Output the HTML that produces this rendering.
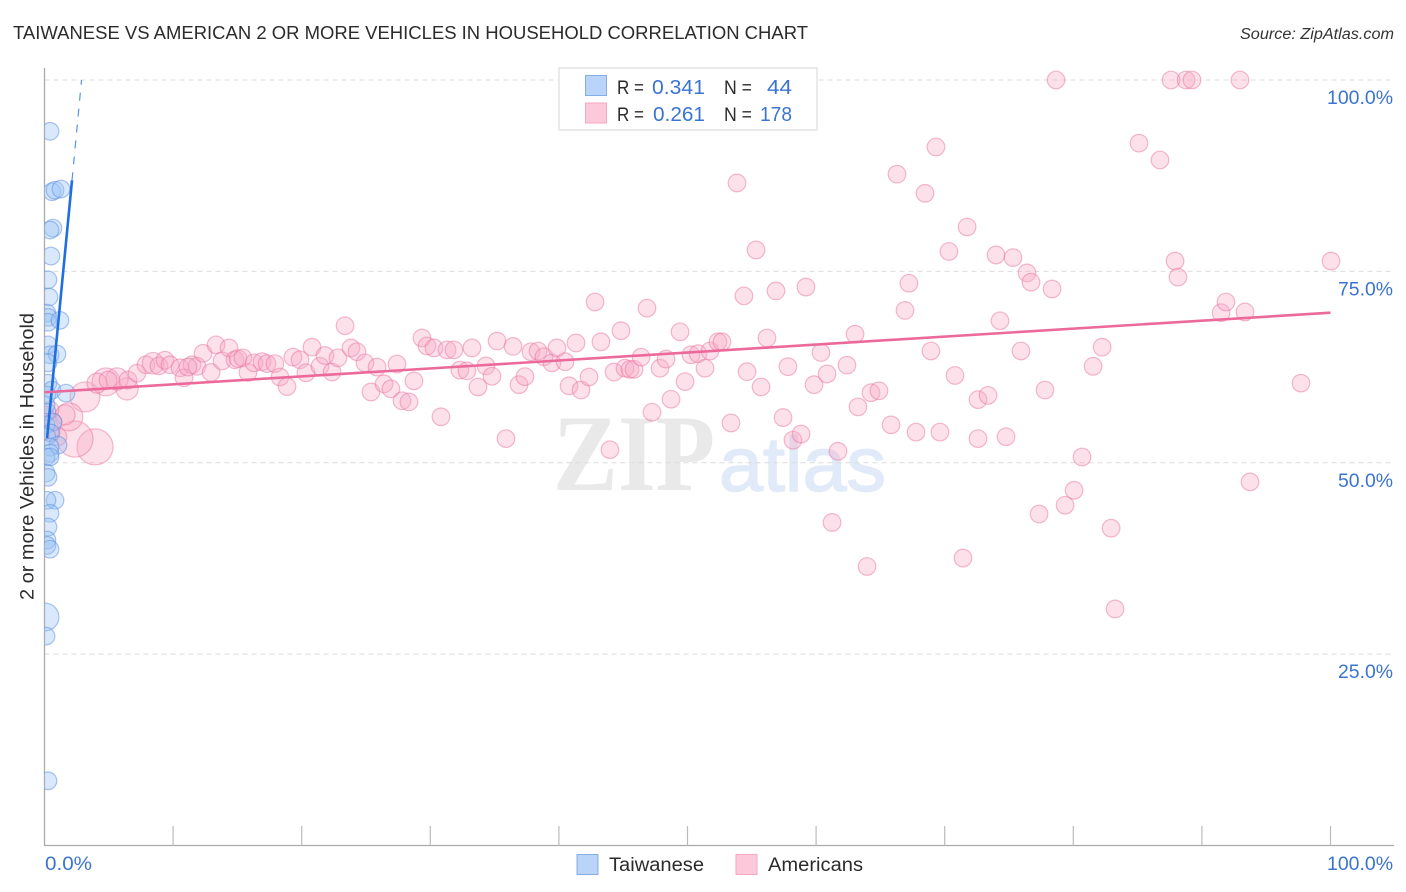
<!DOCTYPE html>
<html lang="en">
<head>
<meta charset="utf-8">
<title>Taiwanese vs American 2 or More Vehicles in Household Correlation Chart</title>
<style>
html,body{margin:0;padding:0;background:#fff;width:1406px;height:892px;overflow:hidden}
svg{display:block}
text{font-family:"Liberation Sans",sans-serif}
</style>
</head>
<body>
<svg id="chart" width="1406" height="892" viewBox="0 0 1406 892" xmlns="http://www.w3.org/2000/svg">
  <defs>
    <clipPath id="plot-clip"><rect x="44.5" y="60" width="1350" height="785.5"/></clipPath>
  </defs>
  <text x="13" y="39" font-size="18.5" fill="#2b2b2b" textLength="795" lengthAdjust="spacingAndGlyphs">TAIWANESE VS AMERICAN 2 OR MORE VEHICLES IN HOUSEHOLD CORRELATION CHART</text>
  <text x="1394" y="39" font-size="15.5" font-style="italic" fill="#333" text-anchor="end" textLength="154" lengthAdjust="spacingAndGlyphs">Source: ZipAtlas.com</text>
  <g>
    <text x="553" y="490" style="font-family:'Liberation Serif',serif" font-size="109" font-weight="700" fill="#e9e9e9" textLength="162" lengthAdjust="spacingAndGlyphs">ZIP</text>
    <text x="719" y="491" font-size="77" fill="#e1eaf8" stroke="#e1eaf8" stroke-width="1.5" textLength="167" lengthAdjust="spacingAndGlyphs">atlas</text>
  </g>
  <g id="grid"></g>
  <g id="axes"></g>
  <g id="points" clip-path="url(#plot-clip)"></g>
  <g id="trends"></g>
  <text transform="translate(33.5 600) rotate(-90)" font-size="19" fill="#2b2b2b" textLength="287" lengthAdjust="spacingAndGlyphs">2 or more Vehicles in Household</text>
  <g>
    <rect x="559" y="68" width="258" height="62" fill="#fff" stroke="#ddd" stroke-width="1.2"/>
    <rect x="585.5" y="75.5" width="21" height="20" fill="#b9d4f8" stroke="#85ade6" stroke-width="1"/>
    <rect x="585.5" y="103" width="21" height="20" fill="#fcc9da" stroke="#f5a6c0" stroke-width="1"/>
    <text x="617" y="94" font-size="19" fill="#2b2b2b" textLength="27" lengthAdjust="spacingAndGlyphs">R =</text>
    <text x="652" y="94" font-size="20.5" fill="#3b74d0" textLength="53" lengthAdjust="spacingAndGlyphs">0.341</text>
    <text x="724" y="94" font-size="19" fill="#2b2b2b" textLength="28" lengthAdjust="spacingAndGlyphs">N =</text>
    <text x="767" y="94" font-size="20.5" fill="#3b74d0" textLength="25" lengthAdjust="spacingAndGlyphs">44</text>
    <text x="617" y="121" font-size="19" fill="#2b2b2b" textLength="27" lengthAdjust="spacingAndGlyphs">R =</text>
    <text x="653" y="121" font-size="20.5" fill="#3b74d0" textLength="52" lengthAdjust="spacingAndGlyphs">0.261</text>
    <text x="724" y="121" font-size="19" fill="#2b2b2b" textLength="28" lengthAdjust="spacingAndGlyphs">N =</text>
    <text x="760" y="121" font-size="20.5" fill="#3b74d0" textLength="32" lengthAdjust="spacingAndGlyphs">178</text>
  </g>
  <g>
    <rect x="577" y="854.5" width="21" height="20" fill="#b9d4f8" stroke="#85ade6" stroke-width="1"/>
    <text x="609" y="871" font-size="19" fill="#2b2b2b" textLength="95" lengthAdjust="spacingAndGlyphs">Taiwanese</text>
    <rect x="736" y="854.5" width="21" height="20" fill="#fcc9da" stroke="#f5a6c0" stroke-width="1"/>
    <text x="768" y="871" font-size="19" fill="#2b2b2b" textLength="95" lengthAdjust="spacingAndGlyphs">Americans</text>
  </g>
</svg>
<script>
var xTickValues = [0,10,20,30,40,50,60,70,80,90,100];
var yGridValues = [25,50,75,100];
var yTickLabels = ['25.0%','50.0%','75.0%','100.0%'];
var xEndLabels = ['0.0%','100.0%'];

var taiwaneseX = [0.43,0.58,0.82,1.28,0.66,0.43,0.5,0.27,0.35,0.19,0.27,0.27,1.2,0.27,0.43,0.97,0.27,0.27,0.58,1.67,0.19,0.66,0.12,0.5,0.19,1.05,0.43,0.43,0.12,0.43,0.12,0.27,0.82,0.19,0.43,0.27,0.19,0.19,0.43,0.04,0.12,0.27,0.12,0.19];
var taiwaneseY = [93.3,85.4,85.6,85.75,80.65,80.4,77,73.9,71.65,69.55,69,68.35,68.6,65.4,64.1,64.2,63.05,60.4,59.5,59.1,56.65,55.3,54.95,53.9,53.4,52.3,52.05,51.25,50.75,50.75,48.65,48.1,45.1,45.1,43.4,41.6,39.9,39.2,38.7,29.85,27.35,8.45,57.55,58.85];
var taiwaneseWeight = [1,1,1,1,1,1,1,1,1,1,1,1,1,1,1,1,1,1,1,1,1,1,1,1,1,1,1,1,1,1,1,1,1,1,1,1,1,1,1,2.5,1,1,1,1];

var americansX = [3.93,2.37,3.15,1.9,1.6,4.78,4.08,6.42,5.64,4.94,6.49,7.19,7.89,8.44,8.9,9.37,9.76,10.54,10.85,11.47,0.43,0.66,1.05,0.43,0.04,11.86,11.16,
12.33,12.95,13.34,13.8,14.35,14.81,15.05,15.43,15.82,16.29,16.91,17.3,17.92,18.31,18.86,19.32,19.87,20.33,20.8,21.42,21.81,22.36,22.82,23.37,23.83,24.3,24.92,25.39,25.86,26.4,26.94,27.41,27.8,28.34,28.73,29.35,29.74,30.29,30.83,31.3,31.84,32.3,32.85,33.24,33.71,34.33,34.8,35.19,35.89,36.43,36.9,37.36,37.83,38.38,38.84,39.46,39.85,40.48,40.79,41.33,41.72,42.34,42.81,43.27,43.97,44.29,44.83,45.14,45.53,45.84,46.39,46.85,47.24,47.86,48.33,48.72,49.42,49.81,50.27,50.82,51.36,51.75,52.37,52.68,53.38,53.85,54.39,54.63,55.33,55.72,56.18,56.88,57.43,57.81,58.2,58.83,59.21,59.84,60.38,60.85,61.24,61.7,62.4,63.03,63.26,63.96,64.27,64.89,65.83,66.29,66.91,67.22,67.77,68.47,68.93,69.32,69.63,70.33,70.8,71.42,71.74,72.59,72.59,73.37,73.99,74.3,74.77,75.31,75.93,76.4,76.71,77.34,77.8,78.35,78.66,79.36,80.06,80.68,81.54,82.24,82.94,83.25,85.11,86.74,87.6,87.91,88.14,88.77,89.23,91.49,91.87,92.96,93.35,93.74,97.7,100.04];
var americansY = [52.07,53.1,58.6,56,56.25,60.56,60.4,59.65,60.95,60.8,60.8,61.7,62.8,63,62.65,63.4,62.8,62.4,61.1,62.8,56.9,55.3,53.4,53.9,56.25,62.6,62.5,
64.3,61.8,65.4,63.3,65,63.45,63.6,63.7,61.8,63.05,63.2,62.95,62.95,61.2,59.95,63.8,63.45,61.75,65.1,62.6,64,61.85,63.7,67.9,65,64.5,63.05,59.25,62.5,60.3,59.65,62.9,58.1,57.95,60.7,66.3,65.25,65,56,64.75,64.75,62.1,62,65,59.9,62.65,61.3,65.9,53.15,65.2,60.2,61.25,64.5,64.6,63.85,63.05,65,63.2,60.05,65.65,59.5,61.2,71,65.8,51.7,61.85,67.25,62.35,62.2,62.2,63.8,70.2,56.6,62.35,63.55,58.3,67.1,60.6,64.1,64.25,62.35,64.6,65.8,65.8,55.2,86.55,71.8,61.9,77.8,59.9,66.3,72.45,55.9,62.55,52.95,53.75,72.95,60.2,64.4,61.6,42.2,51.5,62.75,66.8,57.3,36.45,59.15,59.4,54.95,87.7,69.9,73.45,54,85.2,64.6,91.25,54,77.6,61.4,37.55,80.8,58.25,53.15,58.8,77.15,68.55,53.4,76.8,64.6,74.8,73.6,43.3,59.5,72.7,100,44.45,46.4,50.75,62.6,65.1,41.45,30.9,91.75,89.55,100,76.35,74.25,100,100,69.6,71,100,69.7,47.5,60.4,76.35];
var americansWeight = [4.2,4.2,2.9,2.5,1.3,2.5,1.3,1.6,1.6,1,1,1,1,1.5];

var taiwaneseTrendX = [0.2,2.14];
var taiwaneseTrendY = [53.2,86.9];
var taiwaneseDashX = [2.14,2.88];
var taiwaneseDashY = [86.9,100];
var americansTrendX = [0,100];
var americansTrendY = [59.2,69.6];

var SVG_NS = 'http://www.w3.org/2000/svg';
function xScale(v){ return 44.5 + v * 12.86; }
function yScale(v){ return 845.5 - v * 7.655; }
function radius(w){ return 8.8 * Math.sqrt(w); }
function make(tag, parent, attrs){
  var el = document.createElementNS(SVG_NS, tag);
  for (var k in attrs) el.setAttribute(k, attrs[k]);
  parent.appendChild(el);
  return el;
}

var grid = document.getElementById('grid');
var axes = document.getElementById('axes');
var pts = document.getElementById('points');
var trends = document.getElementById('trends');

yGridValues.forEach(function(v, i){
  var line = make('line', grid, {x1:44.5, x2:1394, y1:yScale(v), y2:yScale(v), stroke:'#dcdcdc', 'stroke-width':1, 'stroke-dasharray':'5 4'});
  
  
  var label = make('text', axes, {x:1393, y:yScale(v) + 24, 'font-size':19, fill:'#3b74d0', 'text-anchor':'end', textLength: yTickLabels[i].length * 11, lengthAdjust:'spacingAndGlyphs'});
  label.textContent = yTickLabels[i];
  
  
});

var yAxis = make('line', axes, {x1:44.5, x2:44.5, y1:68, y2:846, stroke:'#aaa', 'stroke-width':1.3});


var xAxis = make('line', axes, {x1:44, x2:1394, y1:845.5, y2:845.5, stroke:'#aaa', 'stroke-width':1.3});



xTickValues.forEach(function(v){
  if (v === 0) return;
  var t = make('line', axes, {x1:xScale(v), x2:xScale(v), y1:826, y2:845.5, stroke:'#bbb', 'stroke-width':1.2});
  
  
});

var xLabelStart = make('text', axes, {x:xScale(xTickValues[0]) + 0.5, y:870, 'font-size':19, fill:'#3b74d0', textLength:47, lengthAdjust:'spacingAndGlyphs'});
xLabelStart.textContent = xEndLabels[0];


var xLabelEnd = make('text', axes, {x:1393, y:870, 'font-size':19, fill:'#3b74d0', 'text-anchor':'end', textLength:66, lengthAdjust:'spacingAndGlyphs'});
xLabelEnd.textContent = xEndLabels[1];



americansX.forEach(function(v, i){
  var w = i < americansWeight.length ? americansWeight[i] : 1;
  var c = make('circle', pts, {cx:xScale(v), cy:yScale(americansY[i]), r:radius(w), fill:'#f7a8c4', 'fill-opacity':0.36, stroke:'#e8709c', 'stroke-opacity':0.48, 'stroke-width':1.2});
  
  
});
taiwaneseX.forEach(function(v, i){
  var c = make('circle', pts, {cx:xScale(v), cy:yScale(taiwaneseY[i]), r:radius(taiwaneseWeight[i]), fill:'#9cc2f4', 'fill-opacity':0.38, stroke:'#5d92e0', 'stroke-opacity':0.52, 'stroke-width':1.2});
  
  
});

var dash = make('line', trends, {x1:xScale(taiwaneseDashX[0]), y1:yScale(taiwaneseDashY[0]), x2:xScale(taiwaneseDashX[1]), y2:yScale(taiwaneseDashY[1]), stroke:'#5b93e6', 'stroke-width':1.2, 'stroke-dasharray':'8 8'});


var blueLine = make('line', trends, {x1:xScale(taiwaneseTrendX[0]), y1:yScale(taiwaneseTrendY[0]), x2:xScale(taiwaneseTrendX[1]), y2:yScale(taiwaneseTrendY[1]), stroke:'#1f6fe0', 'stroke-width':2.6});


var pinkLine = make('line', trends, {x1:xScale(americansTrendX[0]), y1:yScale(americansTrendY[0]), x2:xScale(americansTrendX[1]), y2:yScale(americansTrendY[1]), stroke:'#ec6a9b', 'stroke-width':2.6});


</script>
</body>
</html>
